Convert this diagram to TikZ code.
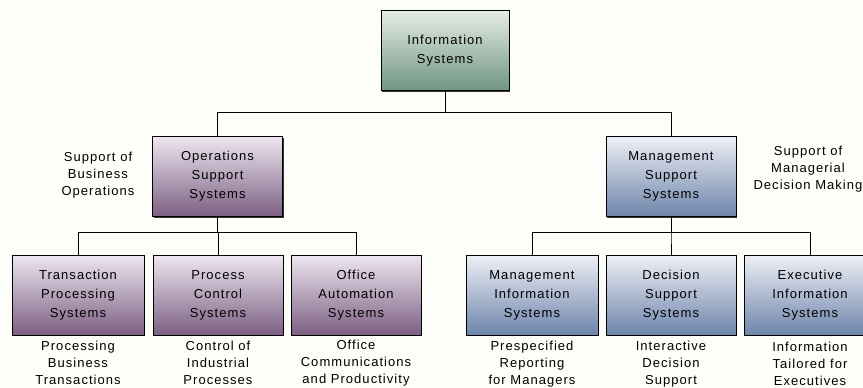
\documentclass[tikz,border=0pt]{standalone}
\usepackage{fontspec}
\setmainfont{Liberation Sans}[LetterSpace=8.0]
\usetikzlibrary{shadows}
\definecolor{page bg}{HTML}{FDFDF9}
\definecolor{info top}{HTML}{E6ECE4}
\definecolor{info bottom}{HTML}{6F9585}
\definecolor{ops top}{HTML}{EEE6F0}
\definecolor{ops bottom}{HTML}{7B5F82}
\definecolor{mgmt top}{HTML}{EEF0F6}
\definecolor{mgmt bottom}{HTML}{6D84AA}
\def\boxfont{\fontsize{13}{19}\selectfont}
\def\notefont{\fontsize{13}{17}\selectfont}
\tikzset{
  sysbox/.style={draw=black, line width=0.8pt, minimum width=130pt, minimum height=80pt,
    inner sep=0pt, align=center, font=\boxfont,
    drop shadow={shadow xshift=1.3pt, shadow yshift=-1.3pt, fill=black!80, opacity=1}},
  infobox/.style={sysbox, top color=info top, bottom color=info bottom},
  opsbox/.style={sysbox, top color=ops top, bottom color=ops bottom},
  mgmtbox/.style={sysbox, top color=mgmt top, bottom color=mgmt bottom},
  note/.style={align=center, font=\notefont, inner sep=0pt},
  link/.style={draw=black, line width=0.9pt}
}

\begin{document}
\begin{tikzpicture}[x=1pt, y=-1pt]
    \fill[page bg] (0,0) rectangle (863,388);
    \clip (0,0) rectangle (863,388);
    % top level
    \node[infobox, minimum width=128pt] (info) at (445,50.5) {Information\\Systems};
    % second level
    \node[opsbox] (ops) at (217.5,176.5) {Operations\\Support\\Systems};
    \node[mgmtbox] (mgmt) at (671,176.5) {Management\\Support\\Systems};
    \node[note] (opsnote) at (98,175) {Support of\\Business\\Operations};
    \node[note] (mgmtnote) at (808,169) {Support of\\Managerial\\Decision Making};
    % third level
    \node[opsbox, minimum width=132pt] (tps) at (78,295) {Transaction\\Processing\\Systems};
    \node[opsbox] (pcs) at (218,295) {Process\\Control\\Systems};
    \node[opsbox] (oas) at (356,295) {Office\\Automation\\Systems};
    \node[mgmtbox, minimum width=132pt] (mis) at (532,295) {Management\\Information\\Systems};
    \node[mgmtbox] (dss) at (671,295) {Decision\\Support\\Systems};
    \node[mgmtbox, minimum width=132pt] (eis) at (810,295) {Executive\\Information\\Systems};
    \node[note] (tpsnote) at (78,363) {Processing\\Business\\Transactions};
    \node[note] (pcsnote) at (218,363) {Control of\\Industrial\\Processes};
    \node[note] (oasnote) at (356,363) {Office\\Communications\\and Productivity};
    \node[note] (misnote) at (532,364) {Prespecified\\Reporting\\for Managers};
    \node[note] (dssnote) at (671,364) {Interactive\\Decision\\Support};
    \node[note] (eisnote) at (810,364) {Information\\Tailored for\\Executives};
    % connectors
    \draw[link] (info.south) -- ++(0,22) -| (ops.north);
    \draw[link] (info.south) -- ++(0,22) -| (mgmt.north);
    \foreach \child in {tps, pcs, oas}
      \draw[link] (ops.south) -- ++(0,16) -| (\child.north);
    \foreach \child in {mis, dss, eis}
      \draw[link] (mgmt.south) -- ++(0,16) -| (\child.north);
  \end{tikzpicture}
\end{document}
